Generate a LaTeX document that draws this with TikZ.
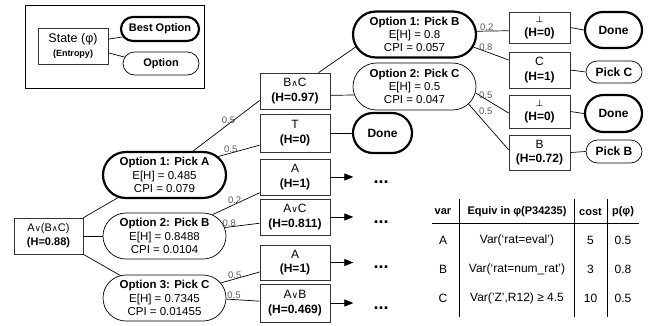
\documentclass[tikz,border=0pt]{standalone}
\usepackage{fontspec}
\setmainfont{Liberation Sans}
\newfontfamily\symf{DejaVu Sans}[Scale=0.75]
\usetikzlibrary{shapes.misc,arrows.meta,positioning}
\newcommand{\por}{{\symf ∨}}
\newcommand{\pand}{{\symf ∧}}
\newcommand{\pbot}{{\symf ⊥}}

\begin{document}
\begin{tikzpicture}[x=1pt, y=-1pt, line width=0.7pt,
    every node/.style={font=\fontsize{12}{14.5}\selectfont, align=center},
    state/.style={draw=black!80, inner sep=1pt, minimum width=70pt, minimum height=37pt},
    opt/.style={draw, rounded rectangle, inner sep=1pt, minimum width=125pt, minimum height=46pt,
        font=\fontsize{11.5}{13.3}\selectfont},
    best/.style={opt, line width=2.2pt},
    fin/.style={draw, rounded rectangle, inner sep=1pt, font=\bfseries\fontsize{12}{14}\selectfont,
        minimum width=59pt, minimum height=22pt},
    pr/.style={font=\fontsize{9.5}{10}\selectfont, text=black!65, inner sep=0.5pt, above},
    ell/.style={font=\bfseries\fontsize{18}{18}\selectfont, inner sep=0pt}]
    \useasboundingbox (0,0) rectangle (652,325);

    % Legend (Top Left)
    \draw[line width=0.8pt] (25,5) rectangle (204,88);
    \node[state, minimum height=36pt, font=\fontsize{12.5}{14}\selectfont] (lstate) at (73,46)
        {State (φ)\\{\bfseries\fontsize{9}{10}\selectfont (Entropy)}};
    \node[best, minimum width=80pt, minimum height=24pt, font=\bfseries\fontsize{11}{12}\selectfont] (lbest) at (160,29) {Best Option};
    \node[opt, minimum width=78pt, minimum height=23pt, font=\bfseries\fontsize{11}{12}\selectfont] (lopt) at (161,63.5) {Option};
    \draw (lstate.11) -- (lbest.192);
    \draw (lstate.-11) -- (lopt.170);

    % Root and its options
    \node[state, minimum width=69pt, minimum height=36pt, font=\fontsize{11}{14}\selectfont] (root) at (48.5,236)
        {A\por(B\pand C)\\\textbf{(H=0.88)}};
    \node[best] (optA) at (164.5,175) {\textbf{Option 1: Pick A}\\E[H] = 0.485\\CPI = 0.079};
    \node[opt] (optB) at (164.5,236) {\textbf{Option 2: Pick B}\\E[H] = 0.8488\\CPI = 0.0104};
    \node[opt] (optC) at (164.5,298) {\textbf{Option 3: Pick C}\\E[H] = 0.7345\\CPI = 0.01455};
    \draw (root.north east) -- (optA.206);
    \draw (root.east) -- (optB.west);
    \draw (root.south east) -- (optC.153);

    % Resulting states
    \node[state, minimum height=36pt] (bc) at (295,91) {B\pand C\\\textbf{(H=0.97)}};
    \node[state, minimum height=38pt] (top) at (295,133) {T\\\textbf{(H=0)}};
    \node[state, minimum height=36pt] (a1) at (295,177) {A\\\textbf{(H=1)}};
    \node[state, minimum height=36pt] (ac) at (295,217) {A\por C\\\textbf{(H=0.811)}};
    \node[state, minimum height=35pt] (a2) at (295,262.5) {A\\\textbf{(H=1)}};
    \node[state, minimum height=38pt] (ab) at (295,303) {A\por B\\\textbf{(H=0.469)}};

    \draw (optA.40) -- node[pr, pos=0.53] {0.5} (bc.195);
    \draw (optA.19) -- node[pr, pos=0.3] {0.5} (top.199);
    \draw (optB.24.5) -- node[pr, pos=0.47] {0.2} (a1.204.6);
    \draw (optB.8) -- node[pr, pos=0.13] {0.8} (ac.190);
    \draw (optC.15.6) -- node[pr, pos=0.36] {0.5} (a2.195);
    \draw (optC.-1) -- node[pr, pos=0.23] {0.5} (ab.177);

    \node[fin, line width=2.2pt, minimum width=61pt, minimum height=40pt] (done1) at (382.5,133) {Done};
    \draw (top.east) -- (done1.west);

    \foreach \n in {a1,ac,a2,ab} {
        \node[ell, right=43pt of \n, yshift=-5pt] (dots-\n) {...};
        \draw[-{Triangle[length=9pt,width=7pt]}] (\n.east) -- ([xshift=-20pt]dots-\n.west |- \n.east);
    }

    % Second level (B and C)
    \node[best] (optPB) at (414.5,34.5) {\textbf{Option 1: Pick B}\\E[H] = 0.8\\CPI = 0.057};
    \node[opt, minimum height=47pt] (optPC) at (414.5,86.5) {\textbf{Option 2: Pick C}\\E[H] = 0.5\\CPI = 0.047};
    \draw (bc.38) -- (optPB.192);
    \draw (bc.-7) -- (optPC.188);

    \node[state, minimum width=61pt, minimum height=31pt] (bot1) at (539.5,27.5) {\pbot\\\textbf{(H=0)}};
    \node[state, minimum width=61pt, minimum height=36pt] (cc) at (539.5,70) {C\\\textbf{(H=1)}};
    \node[state, minimum width=61pt, minimum height=33pt] (bot2) at (539.5,111.5) {\pbot\\\textbf{(H=0)}};
    \node[state, minimum width=61pt, minimum height=35pt] (bb) at (539.5,152.5) {B\\\textbf{(H=0.72)}};

    \draw (optPB.3) -- node[pr, pos=0.31] {0.2} (bot1.186);
    \draw (optPB.-12.6) -- node[pr, pos=0.35] {0.8} (cc.162);
    \draw (optPC.-6) -- node[pr, pos=0.31] {0.5} (bot2.183);
    \draw (optPC.-18.7) -- node[pr, pos=0.24, anchor=south west] {0.5} (bb.175);

    \node[fin, line width=2.2pt, minimum height=36pt] (done2) at (613.5,30) {Done};
    \node[fin, minimum width=58pt] (pickC) at (614,72) {Pick C};
    \node[fin, line width=2.2pt, minimum height=37pt] (done3) at (613.5,113.5) {Done};
    \node[fin, minimum width=58pt, minimum height=23pt] (pickB) at (614,151.5) {Pick B};
    \draw (bot1.east) -- (done2.west);
    \draw (cc.east) -- (pickC.west);
    \draw (bot2.east) -- (done3.west);
    \draw (bb.east) -- (pickB.west);

    % Variable table
    \node[font=\bfseries\fontsize{11}{12}\selectfont] (hvar) at (443,212) {var};
    \node[font=\bfseries\fontsize{11}{12}\selectfont] (heq) at (517,212) {Equiv in φ(P34235)};
    \node[font=\bfseries\fontsize{11}{12}\selectfont] (hcost) at (590.5,212) {cost};
    \node[font=\bfseries\fontsize{11}{12}\selectfont] (hp) at (623,212) {p(φ)};
    \foreach \v/\y/\eq/\c/\p in {A/240/Var(‘rat=eval’)/5/0.5, B/269/Var(‘rat=num\_rat’)/3/0.8,
                                 C/298/{Var(’Z’,R12) ≥ 4.5}/10/0.5} {
        \node (tvar-\v) at (443,\y) {\v};
        \node (teq-\v) at (517,\y) {\eq};
        \node (tcost-\v) at (590.5,\y) {\c};
        \node (tp-\v) at (623,\y) {\p};
    }
    \draw[line width=0.8pt] (459,199) -- (459,317);
    \draw[line width=0.8pt] (574,199) -- (574,317);
    \draw[line width=0.8pt] (607,199) -- (607,317);
    \draw[line width=0.8pt] (432,223) -- (639,223);
\end{tikzpicture}
\end{document}
